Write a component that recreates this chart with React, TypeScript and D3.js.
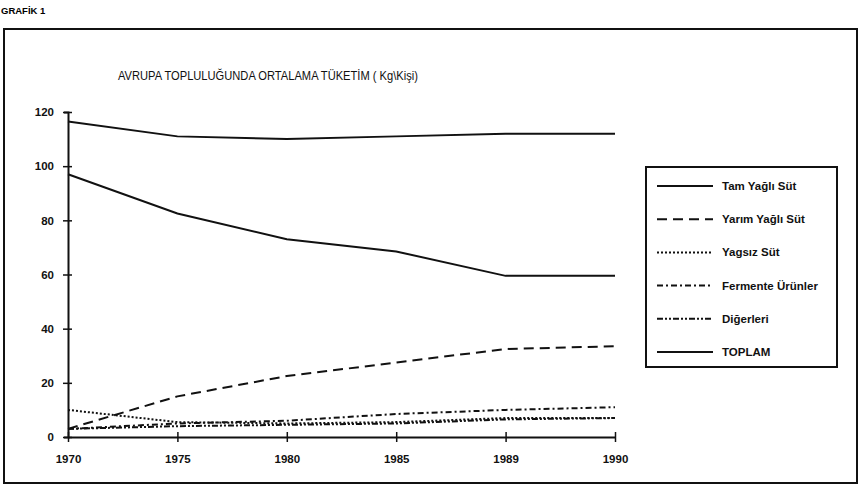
import { useEffect, useRef } from 'react'
import * as d3 from 'd3'

const years = ['1970', '1975', '1980', '1985', '1989', '1990']
const yTicks = [0, 20, 40, 60, 80, 100, 120]

const tamYagli = [97, 82.5, 73, 68.5, 59.5, 59.5]
const yarimYagli = [3, 15, 22.5, 27.5, 32.5, 33.5]
const yagsiz = [10, 5.5, 5, 5.5, 7, 7]
const fermente = [3, 5, 6, 8.5, 10, 11]
const digerleri = [3, 4, 4.5, 5, 6.5, 7]
const toplam = [116.5, 111, 110, 111, 112, 112]

const seriesNames = ['Tam Yağlı Süt', 'Yarım Yağlı Süt', 'Yagsız Süt', 'Fermente Ürünler', 'Diğerleri', 'TOPLAM']
const seriesValues = [tamYagli, yarimYagli, yagsiz, fermente, digerleri, toplam]
const dashes = ['none', '10,6', '2,2', '6,3,2,3', '6,2,2,2,2,2', 'none']

const FONT = '"Liberation Sans", Arial, sans-serif'

function App() {
  const ref = useRef<SVGSVGElement>(null)

  useEffect(() => {
    const svg = d3.select(ref.current)
    svg.selectAll('*').remove()

    const x = d3.scalePoint().domain(years).range([68, 615])
    const y = d3.scaleLinear().domain([0, 120]).range([437, 112])

    // heading and frame
    svg.append('text').attr('x', 1).attr('y', 14).attr('font-family', FONT).attr('font-weight', 'bold')
      .attr('font-size', 9.5).text('GRAFİK 1')
    svg.append('rect').attr('x', 4).attr('y', 29).attr('width', 853).attr('height', 454)
      .attr('fill', 'none').attr('stroke', '#111').attr('stroke-width', 2)

    svg.append('text').attr('x', 118).attr('y', 80).attr('font-family', FONT).attr('font-size', 13)
      .attr('textLength', 300).attr('lengthAdjust', 'spacingAndGlyphs')
      .attr('fill', '#111').text('AVRUPA TOPLULUĞUNDA ORTALAMA TÜKETİM ( Kg\\Kişi)')

    // axes
    svg.append('g')
      .attr('transform', `translate(${x('1970')},0)`)
      .call(d3.axisLeft(y).tickValues(yTicks).tickSize(4).tickPadding(10))
      .call((g) => g.select('.domain').attr('stroke', '#111').attr('stroke-width', 2))
      .call((g) => g.selectAll('.tick line').attr('x1', -5).attr('x2', 4).attr('stroke', '#111').attr('stroke-width', 1.5))
      .call((g) => g.selectAll('text').attr('font-family', FONT).attr('font-weight', 'bold').attr('font-size', 11.5).attr('fill', '#111'))

    svg.append('g')
      .attr('transform', `translate(0,${y(0)})`)
      .call(d3.axisBottom(x).tickSize(5).tickPadding(13).tickSizeOuter(0))
      .call((g) => g.select('.domain').attr('stroke', '#111').attr('stroke-width', 2))
      .call((g) => g.selectAll('.tick line').attr('y1', -5).attr('y2', 5).attr('stroke', '#111').attr('stroke-width', 1.5))
      .call((g) => g.selectAll('text').attr('font-family', FONT).attr('font-weight', 'bold').attr('font-size', 11.5).attr('fill', '#111'))

    // lines
    const line = d3.line<number>()
      .x((_, i) => x(years[i]) as number)
      .y((d) => y(d))

    seriesValues.forEach((vals, i) => {
      svg.append('path')
        .attr('d', line(vals))
        .attr('fill', 'none')
        .attr('stroke', '#111')
        .attr('stroke-width', 2)
        .attr('stroke-dasharray', dashes[i])
    })

    // legend
    const lg = svg.append('g')
    lg.append('rect').attr('x', 646).attr('y', 167).attr('width', 191).attr('height', 200)
      .attr('fill', 'none').attr('stroke', '#111').attr('stroke-width', 2)
    const rowY = d3.scaleLinear().domain([0, 5]).range([186, 352])
    seriesNames.forEach((name, i) => {
      lg.append('line').attr('x1', 657).attr('x2', 713).attr('y1', rowY(i)).attr('y2', rowY(i))
        .attr('stroke', '#111').attr('stroke-width', 2).attr('stroke-dasharray', dashes[i])
      lg.append('text').attr('x', 722).attr('y', rowY(i) + 4).attr('font-family', FONT)
        .attr('font-weight', 'bold').attr('font-size', 11.5).attr('fill', '#111').text(name)
    })
  }, [])

  return (
    <svg
      ref={ref}
      width={861}
      height={486}
      style={{ position: 'absolute', left: 0, top: 0, background: '#fff' }}
    />
  )
}

export default App
